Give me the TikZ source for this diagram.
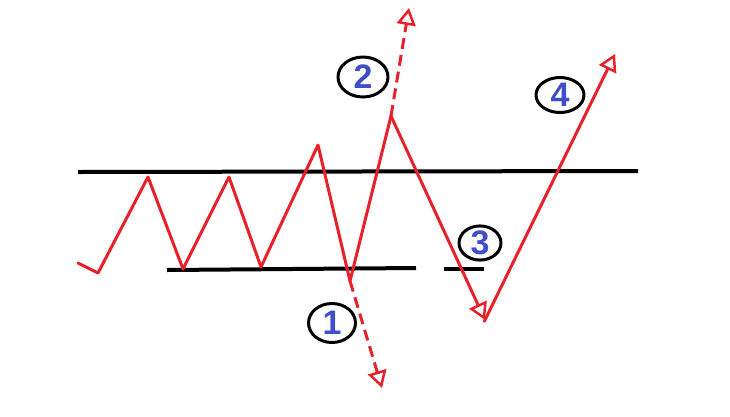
\documentclass[tikz,border=0pt]{standalone}
\usepackage{fontspec}
\setmainfont{Liberation Sans}
\usetikzlibrary{arrows.meta,shapes.geometric}
\definecolor{wred}{HTML}{E8202A}
\definecolor{nblue}{HTML}{3F4FC9}
\begin{document}
\begin{tikzpicture}[x=1pt,y=-1pt,line join=round,line cap=round,
	wave/.style={draw=wred,line width=3pt},
	level/.style={draw=black,line width=4pt,line cap=butt},
	brk/.style={wave,dash pattern=on 11pt off 6pt,line cap=butt},
	tip/.style={-{Triangle[open,length=17pt,width=19pt,line width=2.5pt]}},
	lbl/.style={draw=black,line width=3pt,ellipse,inner sep=0pt,text=nblue,
		font=\bfseries\fontsize{34}{34}\selectfont}]
	\useasboundingbox (0,0) rectangle (730,416);
	% levels
	\draw[level] (78,172)--(638,171);
	\draw[level] (167,270)--(416,268);
	\draw[level] (444,269)--(484,269);
	% price swings
	\coordinate (s0) at (78,263);
	\coordinate (s1) at (98,273);
	\coordinate (s2) at (148,177);
	\coordinate (s3) at (183,269);
	\coordinate (s4) at (229,177);
	\coordinate (s5) at (261,267);
	\coordinate (s6) at (318,145);
	\coordinate (s7) at (350,281);
	\coordinate (s8) at (391,116);
	\coordinate (s9) at (485,320);
	\coordinate (s10) at (615,54);
	\coordinate (d1) at (382,388);
	\coordinate (d2) at (409,8);
	\draw[wave] (s0)--(s1)--(s2)--(s3)--(s4)--(s5)--(s6)--(s7)--(s8);
	\draw[wave,tip] (s8)--(s9);
	\draw[wave,tip,shorten <=-1.5pt] (s9)--(s10);
	\draw[brk,tip] (s7)--(d1);
	\draw[brk,tip] (s8)--(d2);
	% labels
	\node[lbl,minimum width=47pt,minimum height=39pt] (n1) at (332,323) {1};
	\node[lbl,minimum width=50pt,minimum height=40pt] (n2) at (363,77) {2};
	\node[lbl,minimum width=42pt,minimum height=30pt] (n3) at (480,243) {3};
	\node[lbl,minimum width=48pt,minimum height=35pt] (n4) at (560,95) {4};
\end{tikzpicture}
\end{document}
